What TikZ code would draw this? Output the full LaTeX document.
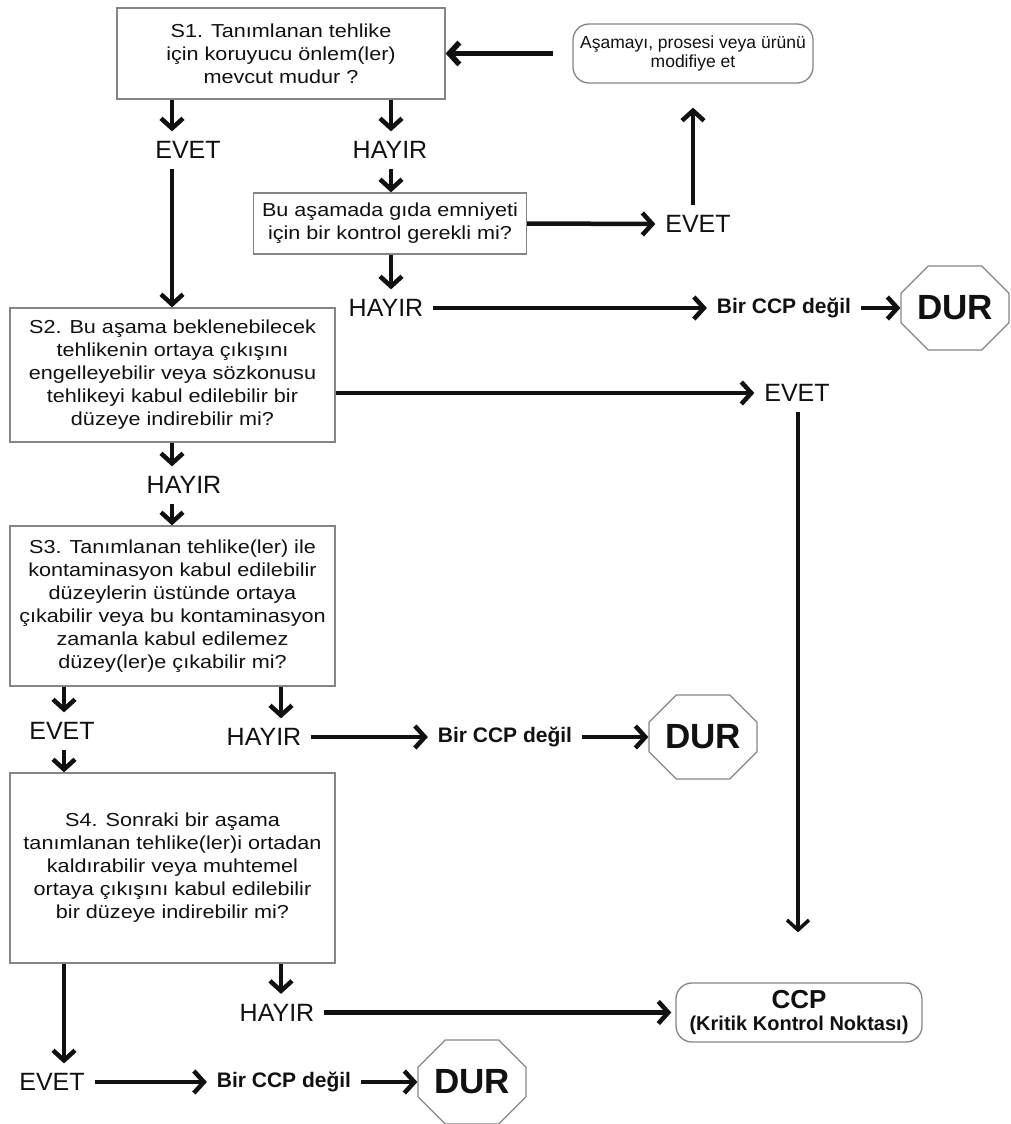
\documentclass[tikz,border=0pt]{standalone}
\usepackage{fontspec}
\setmainfont{Liberation Sans}
\newfontfamily\boxfont{Liberation Sans}[FakeStretch=1.15]
\usetikzlibrary{arrows.meta,shapes.misc}
\definecolor{FlowInk}{HTML}{111111}
\definecolor{FlowEdge}{HTML}{858585}
\tikzset{
  every node/.style={text=FlowInk},
  question/.style={draw=FlowEdge, line width=1.3pt, fill=white, align=center, inner sep=0pt, font=\boxfont\fontsize{18.8}{23}\selectfont},
  roundbox/.style={draw=FlowEdge, line width=1.3pt, rounded corners=16pt, align=center, inner sep=0pt},
  answer/.style={font=\fontsize{25}{30}\selectfont, inner sep=2pt, outer sep=8pt},
  verdict/.style={font=\bfseries\fontsize{21}{25}\selectfont, inner sep=2pt, outer sep=8pt},
  stopsign/.style={chamfered rectangle, chamfered rectangle xsep=25pt, chamfered rectangle ysep=15pt, draw=FlowEdge, line width=1.2pt, minimum width=108pt, minimum height=84pt, inner sep=0pt, font=\bfseries\fontsize{35}{40}\selectfont},
  flow/.style={-{Straight Barb[length=10pt,width=22pt]}, draw=FlowInk, line width=4.5pt},
}

\begin{document}
\begin{tikzpicture}[x=1pt,y=-1pt]
  \useasboundingbox (0,0) rectangle (1010,1124);
  % Columns the vertical arrows run in
  \coordinate (colA) at (64,0);
  \coordinate (colB) at (172,0);
  \coordinate (colC) at (281,0);
  \coordinate (colD) at (391,0);
  \coordinate (colE) at (693,0);
  \coordinate (colF) at (798,0);
  % Questions
  \node[question, minimum width=328pt, minimum height=91pt] (s1) at (281,53.5)
    {S1. Tanımlanan tehlike\\için koruyucu önlem(ler)\\mevcut mudur ?};
  \node[question, minimum width=273pt, minimum height=61pt] (control) at (390,223.5)
    {Bu aşamada gıda emniyeti\\için bir kontrol gerekli mi?};
  \node[question, minimum width=325pt, minimum height=134pt] (s2) at (172.5,375)
    {S2. Bu aşama beklenebilecek\\tehlikenin ortaya çıkışını\\engelleyebilir veya sözkonusu\\tehlikeyi kabul edilebilir bir\\düzeye indirebilir mi?};
  \node[question, minimum width=325pt, minimum height=160pt] (s3) at (172.5,606)
    {S3. Tanımlanan tehlike(ler) ile\\kontaminasyon kabul edilebilir\\düzeylerin üstünde ortaya\\çıkabilir veya bu kontaminasyon\\zamanla kabul edilemez\\düzey(ler)e çıkabilir mi?};
  \node[question, minimum width=325pt, minimum height=190pt] (s4) at (172.5,868)
    {S4. Sonraki bir aşama\\tanımlanan tehlike(ler)i ortadan\\kaldırabilir veya muhtemel\\ortaya çıkışını kabul edilebilir\\bir düzeye indirebilir mi?};
  % Rounded boxes
  \node[roundbox, minimum width=240pt, minimum height=59pt, font=\fontsize{17.5}{19}\selectfont] (modify) at (693,53.5)
    {Aşamayı, prosesi veya ürünü\\modifiye et};
  \node[roundbox, minimum width=246pt, minimum height=59pt, font=\bfseries] (ccp) at (799,1012.5)
    {{\fontsize{26}{27}\selectfont CCP}\\[7pt]{\fontsize{20}{22}\selectfont (Kritik Kontrol Noktası)}};
  % Answers
  \node[answer] (s1yes) at (188,150) {EVET};
  \node[answer] (s1no) at (390,150) {HAYIR};
  \node[answer] (ctlyes) at (698,224) {EVET};
  \node[answer] (ctlno) at (386,308) {HAYIR};
  \node[answer] (s2yes) at (797,393) {EVET};
  \node[answer] (s2no) at (184,485) {HAYIR};
  \node[answer] (s3yes) at (62,731) {EVET};
  \node[answer] (s3no) at (264,737) {HAYIR};
  \node[answer] (s4no) at (277,1012.5) {HAYIR};
  \node[answer] (s4yes) at (52,1082) {EVET};
  % Not a CCP, stop
  \node[verdict] (notccpA) at (784,308) {Bir CCP değil};
  \node[stopsign] (durA) at (955,308) {DUR};
  \node[verdict] (notccpB) at (505,737) {Bir CCP değil};
  \node[stopsign] (durB) at (703,737) {DUR};
  \node[verdict] (notccpC) at (284,1082) {Bir CCP değil};
  \node[stopsign] (durC) at (472,1082) {DUR};
  % Connectors
  \draw[flow, line width=5.5pt, shorten <=19pt] (modify.west) -- (s1.east);
  \draw[flow] (s1.south -| colB) -- (s1yes.north -| colB);
  \draw[flow] (s1.south -| colD) -- (s1no.north -| colD);
  \draw[flow] (s1yes.south -| colB) -- (s2.north -| colB);
  \draw[flow] (s1no.south -| colD) -- (control.north -| colD);
  \draw[flow] (control.east) -- (ctlyes.west);
  \draw[flow, shorten >=24pt] (ctlyes.north -| colE) -- (modify.south -| colE);
  \draw[flow] (control.south -| colD) -- (ctlno.north -| colD);
  \draw[flow] (ctlno.east) -- (notccpA.west);
  \draw[flow] (notccpA.east) -- (durA.west);
  \draw[flow] (s2.east |- s2yes) -- (s2yes.west);
  \draw[flow, line width=3.5pt, shorten >=50pt] (s2yes.south -| colF) -- (ccp.north -| colF);
  \draw[flow] (s2.south -| colB) -- (s2no.north -| colB);
  \draw[flow] (s2no.south -| colB) -- (s3.north -| colB);
  \draw[flow] (s3.south -| colA) -- (s3yes.north -| colA);
  \draw[flow] (s3.south -| colC) -- (s3no.north -| colC);
  \draw[flow] (s3no.east) -- (notccpB.west);
  \draw[flow] (notccpB.east) -- (durB.west);
  \draw[flow] (s3yes.south -| colA) -- (s4.north -| colA);
  \draw[flow] (s4.south -| colA) -- (s4yes.north -| colA);
  \draw[flow] (s4.south -| colC) -- (s4no.north -| colC);
  \draw[flow, shorten >=4pt] (s4no.east) -- (ccp.west);
  \draw[flow] (s4yes.east) -- (notccpC.west);
  \draw[flow] (notccpC.east) -- (durC.west);
\end{tikzpicture}
\end{document}
